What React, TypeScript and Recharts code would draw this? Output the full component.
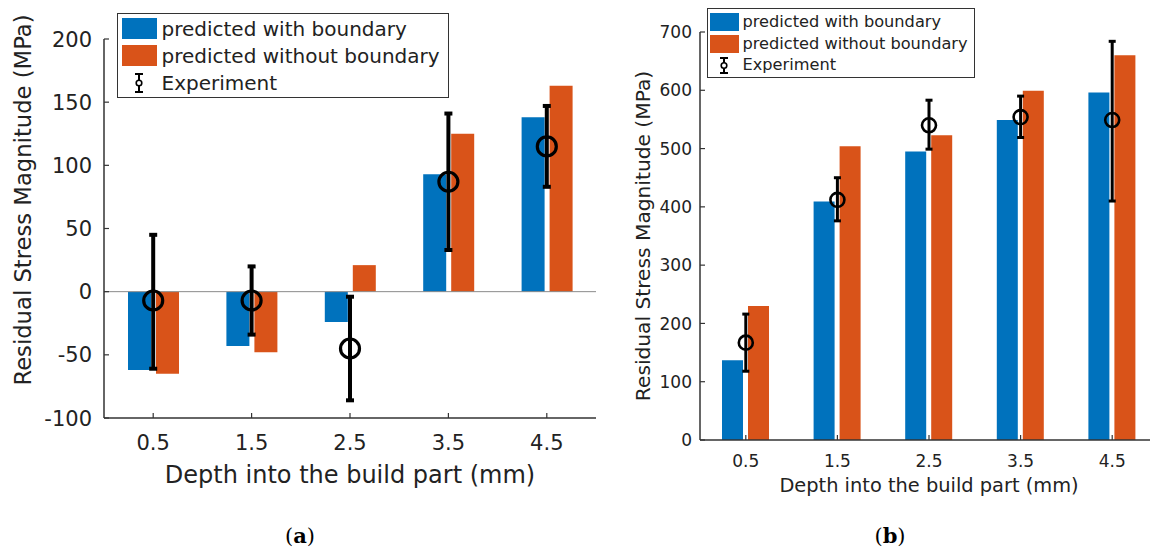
import { ComposedChart, Bar, Line, XAxis, YAxis, ErrorBar, Legend, ReferenceLine } from "recharts";

const DEPTHS = ["0.5", "1.5", "2.5", "3.5", "4.5"];
const SERIES = ["predicted with boundary", "predicted without boundary", "Experiment"];

// panel (a)
const A_WITH = [-62, -43, -24, 93, 138];
const A_WITHOUT = [-65, -48, 21, 125, 163];
const A_EXP = [-7, -7, -45, 87, 115];
const A_EXP_LOW = [-61, -34, -86, 33, 83];
const A_EXP_HIGH = [45, 20, -4, 141, 147];
const A_TICKS = [-100, -50, 0, 50, 100, 150, 200];

// panel (b)
const B_WITH = [137, 409, 495, 549, 596];
const B_WITHOUT = [230, 504, 523, 599, 660];
const B_EXP = [167, 412, 540, 554, 549];
const B_EXP_LOW = [118, 376, 499, 519, 410];
const B_EXP_HIGH = [216, 450, 583, 590, 684];
const B_TICKS = [0, 100, 200, 300, 400, 500, 600, 700];

const X_TITLE = "Depth into the build part (mm)";
const Y_TITLE = "Residual Stress Magnitude (MPa)";

const BLUE = "#0072BD";
const ORANGE = "#D95319";
const AXIS = "#333333";
const TEXT = "#222222";
const FONT = '"DejaVu Sans", sans-serif';
const SERIF = '"DejaVu Serif", serif';
const TICK_LEN = 5;
const COLORS: Record<string, string> = { [SERIES[0]]: BLUE, [SERIES[1]]: ORANGE, [SERIES[2]]: "#000" };

function buildRows(w: number[], wo: number[], exp: number[], lo: number[], hi: number[]) {
	return DEPTHS.map((depth, i) => ({
		depth,
		withB: w[i],
		withoutB: wo[i],
		exp: exp[i],
		err: [exp[i] - lo[i], hi[i] - exp[i]],
	}));
}

const makeYTick = (fs: number, margin: number) => (p: any) => (
	<g>
		<line x1={p.x + margin} x2={p.x + margin + TICK_LEN} y1={p.y} y2={p.y} stroke={AXIS} strokeWidth={1.2} />
		<text x={p.x} y={p.y} dy={fs * 0.36} textAnchor="end" fontSize={fs} fontFamily={FONT} fill={TEXT}>
			{p.payload.value}
		</text>
	</g>
);

const makeXTick = (fs: number, margin: number) => (p: any) => (
	<g>
		<line x1={p.x} x2={p.x} y1={p.y - margin} y2={p.y - margin - TICK_LEN} stroke={AXIS} strokeWidth={1.2} />
		<text x={p.x} y={p.y} dy={fs * 0.73} textAnchor="middle" fontSize={fs} fontFamily={FONT} fill={TEXT}>
			{p.payload.value}
		</text>
	</g>
);

const makeDot = (r: number, sw: number) => (p: any) =>
	p.cx == null ? <g key={p.index} /> : (
		<circle key={p.index} cx={p.cx} cy={p.cy} r={r} fill="none" stroke="#000" strokeWidth={sw} />
	);

function ExpIcon({ h }: { h: number }) {
	return (
		<svg width={12} height={h}>
			<line x1={6} x2={6} y1={1} y2={h - 1} stroke="#000" strokeWidth={2} />
			<line x1={2} x2={10} y1={1} y2={1} stroke="#000" strokeWidth={2} />
			<line x1={2} x2={10} y1={h - 1} y2={h - 1} stroke="#000" strokeWidth={2} />
			<circle cx={6} cy={h / 2} r={2.8} fill="#fff" stroke="#000" strokeWidth={1.6} />
		</svg>
	);
}

const makeLegend = (lg: any) => (props: any) => {
	const items = [...(props.payload ?? [])].sort(
		(a: any, b: any) => SERIES.indexOf(a.value) - SERIES.indexOf(b.value)
	);
	return (
		<div
			style={{
				boxSizing: "border-box",
				width: lg.w,
				border: `1.5px solid ${AXIS}`,
				background: "#fff",
				padding: `${lg.padT}px ${lg.padX}px ${lg.padB}px`,
				fontFamily: FONT,
				fontSize: lg.fs,
				color: TEXT,
			}}
		>
			{items.map((e: any) => (
				<div key={e.value} style={{ display: "flex", alignItems: "center", height: lg.rowH }}>
					<div
						style={{
							width: lg.swW,
							height: lg.rowH,
							marginRight: lg.gap,
							display: "flex",
							alignItems: "center",
							justifyContent: "center",
						}}
					>
						{e.value === SERIES[2] ? (
							<ExpIcon h={lg.iconH} />
						) : (
							<div style={{ width: lg.swW, height: lg.swH, background: COLORS[e.value] }} />
						)}
					</div>
					<span style={{ whiteSpace: "nowrap", lineHeight: 1 }}>{e.value}</span>
				</div>
			))}
		</div>
	);
};

function Panel({ cfg }: { cfg: any }) {
	return (
		<ComposedChart width={cfg.width} height={cfg.height} data={cfg.rows} margin={cfg.margin} barGap={cfg.barGap}>
			<XAxis
				dataKey="depth"
				type="category"
				height={cfg.xAxisHeight}
				interval={0}
				tickSize={0}
				tickMargin={cfg.xTickMargin}
				tickLine={false}
				axisLine={{ stroke: AXIS, strokeWidth: 1.5 }}
				tick={makeXTick(cfg.tickFs, cfg.xTickMargin)}
				label={{
					content: () => (
						<text x={cfg.xLabel.x} y={cfg.xLabel.y} textAnchor="middle" fontSize={cfg.xLabel.fs} fontFamily={FONT} fill={TEXT}>
							{X_TITLE}
						</text>
					),
				}}
			/>
			<YAxis
				type="number"
				domain={cfg.domain}
				ticks={cfg.ticks}
				interval={0}
				width={cfg.yAxisWidth}
				tickSize={0}
				tickMargin={cfg.yTickMargin}
				tickLine={false}
				axisLine={{ stroke: AXIS, strokeWidth: 1.5 }}
				tick={makeYTick(cfg.tickFs, cfg.yTickMargin)}
				label={{
					content: () => (
						<text
							x={cfg.yLabel.x}
							y={cfg.yLabel.y}
							transform={`rotate(-90 ${cfg.yLabel.x} ${cfg.yLabel.y})`}
							textAnchor="middle"
							fontSize={cfg.yLabel.fs}
							fontFamily={FONT}
							fill={TEXT}
						>
							{Y_TITLE}
						</text>
					),
				}}
			/>
			{cfg.zeroLine && <ReferenceLine y={0} stroke="#8a8a8a" strokeWidth={1} />}
			<Bar dataKey="withB" name={SERIES[0]} fill={BLUE} barSize={cfg.barSize} isAnimationActive={false} />
			<Bar dataKey="withoutB" name={SERIES[1]} fill={ORANGE} barSize={cfg.barSize} isAnimationActive={false} />
			<Line
				dataKey="exp"
				name={SERIES[2]}
				stroke="none"
				isAnimationActive={false}
				dot={makeDot(cfg.dot.r, cfg.dot.sw)}
				activeDot={false}
			>
				<ErrorBar dataKey="err" direction="y" width={cfg.err.w} stroke="#000" strokeWidth={cfg.err.sw} />
			</Line>
			<Legend
				layout="vertical"
				align="center"
				verticalAlign="middle"
				wrapperStyle={{ left: cfg.legend.left, top: cfg.legend.top, width: "auto" }}
				content={makeLegend(cfg.legend)}
			/>
		</ComposedChart>
	);
}

const PANEL_A = {
	width: 600,
	height: 549,
	margin: { top: 39, right: 4, bottom: 0, left: 0 },
	rows: buildRows(A_WITH, A_WITHOUT, A_EXP, A_EXP_LOW, A_EXP_HIGH),
	yAxisWidth: 104,
	xAxisHeight: 131,
	domain: [-100, 200],
	ticks: A_TICKS,
	tickFs: 21,
	yTickMargin: 12,
	xTickMargin: 17,
	barSize: 23,
	barGap: 5,
	dot: { r: 9.5, sw: 3.2 },
	err: { w: 4, sw: 4 },
	zeroLine: true,
	legend: { left: 117, top: 13, w: 332, fs: 20, rowH: 27, swW: 35, swH: 21, padT: 1, padX: 3.5, padB: 1, gap: 5, iconH: 20 },
	yLabel: { x: 31, y: 200, fs: 22.7 },
	xLabel: { x: 350, y: 483, fs: 24 },
};

const PANEL_B = {
	width: 560,
	height: 549,
	margin: { top: 32, right: 2, bottom: 0, left: 0 },
	rows: buildRows(B_WITH, B_WITHOUT, B_EXP, B_EXP_LOW, B_EXP_HIGH),
	yAxisWidth: 100,
	xAxisHeight: 109,
	domain: [0, 700],
	ticks: B_TICKS,
	tickFs: 17,
	yTickMargin: 8,
	xTickMargin: 15,
	barSize: 21,
	barGap: 5,
	dot: { r: 7, sw: 2.6 },
	err: { w: 3.5, sw: 3 },
	zeroLine: false,
	legend: { left: 107, top: 8, w: 268, fs: 16.2, rowH: 21.5, swW: 29, swH: 18, padT: 2.5, padX: 1.5, padB: 1, gap: 4, iconH: 17 },
	yLabel: { x: 50, y: 236, fs: 20.2 },
	xLabel: { x: 329, y: 492, fs: 19.4 },
};

export default function App() {
	return (
		<div style={{ position: "absolute", left: 0, top: 0, width: 1150, height: 549, overflow: "hidden", background: "#fff" }}>
			<div style={{ position: "absolute", left: 0, top: 0 }}>
				<Panel cfg={PANEL_A} />
			</div>
			<div style={{ position: "absolute", left: 600, top: 0 }}>
				<Panel cfg={PANEL_B} />
			</div>
			{/* sub-figure captions */}
			<svg width={1150} height={549} style={{ position: "absolute", left: 0, top: 0, pointerEvents: "none" }}>
				<text x={300} y={543} textAnchor="middle" fontFamily={SERIF} fontSize={21} fill="#000">
					(<tspan fontWeight="bold">a</tspan>)
				</text>
				<text x={890} y={543} textAnchor="middle" fontFamily={SERIF} fontSize={21} fill="#000">
					(<tspan fontWeight="bold">b</tspan>)
				</text>
			</svg>
		</div>
	);
}
